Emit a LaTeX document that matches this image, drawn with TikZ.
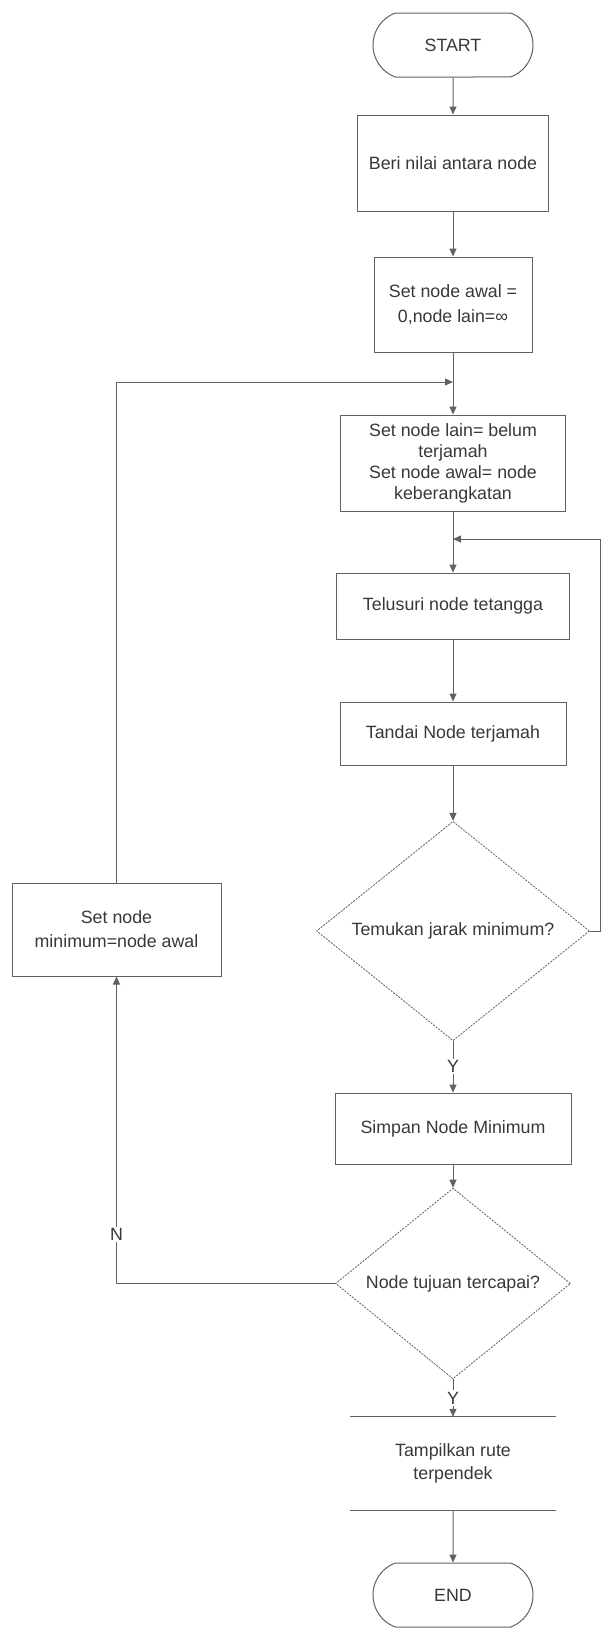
\documentclass[tikz,border=0pt]{standalone}
\usepackage{amssymb}
\usepackage{amsmath}
\usepackage{pgf,tikz}
\usepackage{tkz-euclide}
\usepackage{xcolor}
\usepackage{fontspec}
\setmainfont{Liberation Sans}
\usetikzlibrary{arrows.meta, shapes.geometric, shapes.misc}

\definecolor{garis}{gray}{0.38}
\definecolor{tinta}{gray}{0.22}

\begin{document}
\begin{tikzpicture}[x=1pt,y=-1pt,
	every node/.style={font=\fontsize{17.8}{22}\selectfont, text=tinta},
	proses/.style={draw=garis, line width=1pt, rectangle, inner sep=2pt, align=center},
	keputusan/.style={draw=garis, line width=0.8pt, dash pattern=on 2pt off 1.2pt, diamond, inner sep=0pt, align=center},
	terminal/.style={draw=garis, line width=1pt, rounded rectangle, rounded rectangle arc length=140, minimum width=160pt, minimum height=64pt, inner sep=0pt},
	tampilan/.style={rectangle, inner sep=2pt, align=center},
	panah/.style={draw=garis, line width=1pt, -{Triangle[length=8pt,width=7pt]}},
	ket/.style={fill=white, inner sep=1.5pt}]
	\useasboundingbox (0,0) rectangle (603,1628);

	% kolom utama
	\node[terminal] (mulai) at (453,45) {START};
	\node[proses, minimum width=191pt, minimum height=96pt] (beri) at (453,163) {Beri nilai antara node};
	\node[proses, minimum width=158pt, minimum height=95pt] (awal) at (453,304.5) {Set node awal =\\[3pt]0,node lain=∞};
	\node[proses, minimum width=225pt, minimum height=96pt, font=\fontsize{17.8}{21}\selectfont] (setnode) at (453,463)
		{Set node lain= belum\\terjamah\\Set node awal= node\\keberangkatan};
	\node[proses, minimum width=233pt, minimum height=66pt] (telusuri) at (453,606) {Telusuri node tetangga};
	\node[proses, minimum width=226pt, minimum height=63pt] (tandai) at (453,733.5) {Tandai Node terjamah};
	\node[keputusan, minimum width=273pt, minimum height=168pt] (temukan) at (453,931) {Temukan jarak minimum?};
	\node[proses, minimum width=236pt, minimum height=71pt] (simpan) at (453,1128.5) {Simpan Node Minimum};
	\node[keputusan, minimum width=235pt, minimum height=137pt] (tujuan) at (453,1283.5) {Node tujuan tercapai?};
	\node[tampilan, minimum width=205pt, minimum height=93pt] (tampil) at (453,1463.5) {Tampilkan rute\\[1pt]terpendek};
	\node[terminal] (selesai) at (453,1595) {END};

	% kotak kiri
	\node[proses, minimum width=209pt, minimum height=93pt] (setmin) at (116.5,929.5) {Set node\\[2pt]minimum=node awal};

	\tkzDefPoint(453,382){M_1}
	\tkzDefPoint(453,539){M_2}
	\tkzDefPoint(600,931){R_1}

	\draw[garis, line width=1pt] (tampil.north west) -- (tampil.north east);
	\draw[garis, line width=1pt] (tampil.south west) -- (tampil.south east);

	\draw[panah] (mulai) -- (beri);
	\draw[panah] (beri) -- (awal);
	\draw[panah] (awal) -- (setnode);
	\draw[panah] (setmin.north) |- (M_1);
	\draw[panah] (setnode) -- (telusuri);
	\draw[panah] (telusuri) -- (tandai);
	\draw[panah] (tandai) -- (temukan);
	\draw[panah] (temukan.east) -- (R_1) |- (M_2);
	\draw[panah] (temukan) -- node[ket] (ya_1) {Y} (simpan);
	\draw[panah] (simpan) -- (tujuan);
	\draw[panah] (tujuan.west) -| node[ket, pos=0.58] (tidak) {N} (setmin.south);
	\draw[panah] (tujuan) -- node[ket] (ya_2) {Y} (tampil);
	\draw[panah] (tampil) -- (selesai);
\end{tikzpicture}
\end{document}
